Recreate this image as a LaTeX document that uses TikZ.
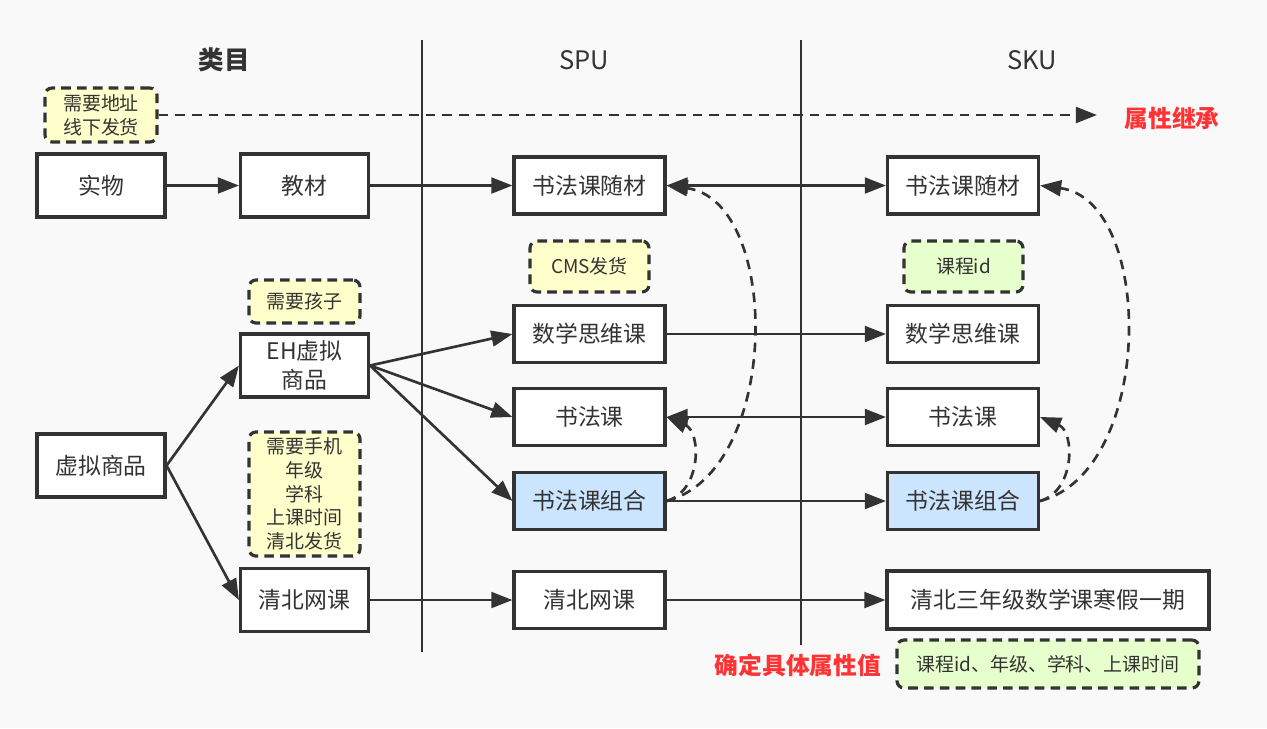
\documentclass[tikz,border=0pt]{standalone}
\usepackage{fontspec}
\setmainfont{Noto Sans CJK SC}
\usetikzlibrary{arrows.meta}
\definecolor{linegray}{HTML}{333333}
\definecolor{bggray}{HTML}{F9F9F9}
\definecolor{noteyellow}{HTML}{FFFFCC}
\definecolor{notegreen}{HTML}{E6FFCC}
\definecolor{boxblue}{HTML}{CCE5FF}
\definecolor{labelred}{HTML}{FF3333}
\tikzset{arrow/.style={-{Triangle[length=12pt,width=9pt]}, line width=1.5pt, draw=linegray}}
\tikzset{double-arrow/.style={{Triangle[length=12pt,width=9pt]}-{Triangle[length=12pt,width=9pt]}, line width=1.5pt, draw=linegray}}
\tikzset{dashed-arrow/.style={arrow, dash pattern=on 5.5pt off 4pt}}
\tikzset{box/.style={draw=linegray, fill=white, line width=1.8pt, text=linegray, font=\fontsize{13}{16.5}\selectfont, inner sep=2pt}}
\tikzset{catbox/.style={box, minimum width=2.56cm, minimum height=1.26cm, align=center}}
\tikzset{itembox/.style={box, minimum width=3.02cm, minimum height=1.14cm}}
\tikzset{note/.style={draw=linegray, fill=noteyellow, line width=1.8pt, dash pattern=on 5.5pt off 3.5pt, rounded corners=4pt, text=linegray, font=\fontsize{10.8}{13.5}\selectfont, align=center}}
\tikzset{title/.style={text=linegray, font=\fontsize{14.5}{16}\selectfont}}
\tikzset{redlabel/.style={text=labelred, font=\bfseries\fontsize{13.5}{15}\selectfont}}
\tikzset{divider/.style={draw=linegray, line width=1.5pt}}

\begin{document}
\begin{tikzpicture}[x=0.02cm, y=-0.02cm]
      \fill[bggray] (0,0) rectangle (1267,728);
      \useasboundingbox (0,0) rectangle (1267,728);

      % column titles and dividers
      \node[title, font=\bfseries\fontsize{14.5}{16}\selectfont] (catTitle) at (224,60) {类目};
      \node[title] (spuTitle) at (584,60) {SPU};
      \node[title] (skuTitle) at (1032,60) {SKU};
      \draw[divider] (422,40) -- (422,652);
      \draw[divider] (801,40) -- (801,645);

      % category column
      \node[note, minimum width=2.24cm, minimum height=1.08cm] (addrNote) at (101,115) {需要地址\\线下发货};
      \node[catbox] (real) at (101,185.5) {实物};
      \node[catbox] (book) at (304.5,185.5) {教材};
      \node[note, minimum width=2.22cm, minimum height=0.86cm] (kidNote) at (304.5,301.5) {需要孩子};
      \node[catbox] (eh) at (304.5,365.5) {EH虚拟\\商品};
      \node[catbox] (virtual) at (101,465.5) {虚拟商品};
      \node[note, minimum width=2.22cm, minimum height=2.46cm] (phoneNote) at (304.5,494) {需要手机\\年级\\学科\\上课时间\\清北发货};
      \node[catbox] (qbCat) at (304.5,600) {清北网课};

      % spu column
      \node[itembox] (spuKit) at (589.5,185.5) {书法课随材};
      \node[note, minimum width=2.38cm, minimum height=1.02cm] (cmsNote) at (589.5,266.5) {CMS发货};
      \node[itembox] (spuMath) at (589.5,334) {数学思维课};
      \node[itembox] (spuCalli) at (589.5,417) {书法课};
      \node[itembox, fill=boxblue] (spuCombo) at (589.5,501) {书法课组合};
      \node[itembox] (spuQb) at (589.5,600) {清北网课};

      % sku column
      \node[itembox] (skuKit) at (963,185.5) {书法课随材};
      \node[note, fill=notegreen, minimum width=2.38cm, minimum height=1.02cm] (idNote) at (963.5,266.5) {课程id};
      \node[itembox] (skuMath) at (963,334) {数学思维课};
      \node[itembox] (skuCalli) at (963,417) {书法课};
      \node[itembox, fill=boxblue] (skuCombo) at (963,501) {书法课组合};
      \node[box, minimum width=6.44cm, minimum height=1.16cm] (skuQb) at (1048,600) {清北三年级数学课寒假一期};
      \node[note, fill=notegreen, minimum width=6.04cm, minimum height=0.96cm] (valNote) at (1048,664) {课程id、年级、学科、上课时间};

      % red labels
      \node[redlabel] (inherit) at (1172,118) {属性继承};
      \node[redlabel] (decide) at (798,665) {确定具体属性值};
      \coordinate (inheritEnd) at (1097,115);

      \draw[dashed-arrow] (addrNote) -- (inheritEnd);
      \draw[arrow] (real) -- (book);
      \draw[arrow] (book) -- (spuKit);
      \draw[double-arrow] (spuKit) -- (skuKit);
      \draw[arrow] (virtual.east) -- (eh.west);
      \draw[arrow] (virtual.east) -- (qbCat.west);
      \draw[arrow] (eh.east) -- (spuMath.west);
      \draw[arrow] (eh.east) -- (spuCalli.west);
      \draw[arrow] (eh.east) -- (spuCombo.west);
      \draw[arrow] (spuMath) -- (skuMath);
      \draw[double-arrow] (spuCalli) -- (skuCalli);
      \draw[arrow] (spuCombo) -- (skuCombo);
      \draw[arrow] (qbCat) -- (spuQb);
      \draw[arrow] (spuQb) -- (skuQb);

      % combo inherits from its parts
      \draw[dashed-arrow] (spuCombo.east) .. controls +(115,-30) and +(115,15) .. (spuKit.east);
      \draw[dashed-arrow] (spuCombo.east) .. controls +(35,-10) and +(35,15) .. (spuCalli.east);
      \draw[dashed-arrow] (skuCombo.east) .. controls +(115,-30) and +(115,15) .. (skuKit.east);
      \draw[dashed-arrow] (skuCombo.east) .. controls +(35,-10) and +(35,15) .. (skuCalli.east);
\end{tikzpicture}
\end{document}
